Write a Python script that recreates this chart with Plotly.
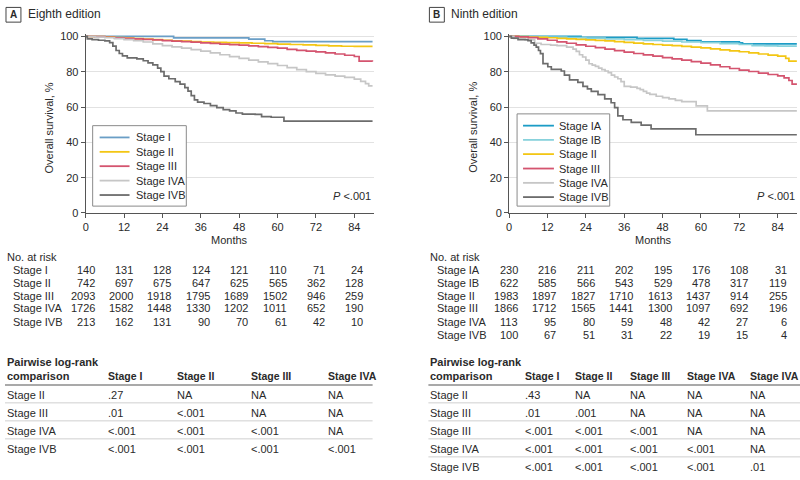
import plotly.graph_objects as go

# ---------------- DATA ----------------
months_ticks = [0, 12, 24, 36, 48, 60, 72, 84]

# Eighth edition (panel A)
e8_names = ["Stage I", "Stage II", "Stage III", "Stage IVA", "Stage IVB"]
e8_I_t = [0, 27.5, 51, 56, 58.5, 89.7]
e8_I_s = [100, 99.1, 98.4, 97.5, 97.0, 97.0]
e8_II_t = [0, 3, 6, 9, 12, 15, 18, 21, 24, 27, 30, 33, 36, 40, 44, 48, 52, 56, 60, 64, 68, 72, 76, 80, 84, 89.7]
e8_II_s = [100, 99.8, 99.6, 99.3, 99.0, 98.7, 98.4, 98.1, 97.8, 97.5, 97.3, 97.0, 96.8, 96.6, 96.5, 96.3, 96.1,
           95.9, 95.6, 95.4, 95.2, 94.9, 94.6, 94.4, 94.3, 94.3]
e8_III_t = [0, 3, 6, 9, 12, 15, 18, 21, 24, 27, 30, 33, 36, 39, 42, 45, 48, 51, 54, 57, 60, 63, 66, 69, 72, 75,
            78, 81, 84, 85.5, 89.7]
e8_III_s = [100, 99.8, 99.5, 99.2, 98.9, 98.6, 98.3, 98.0, 97.6, 97.3, 97.0, 96.7, 96.3, 96.0, 95.6, 95.3, 95.0,
            94.6, 94.2, 93.8, 93.3, 92.6, 92.1, 91.6, 91.2, 90.7, 90.0, 89.3, 88.6, 86.0, 85.8]
e8_IVA_t = [0, 3, 6, 9, 12, 15, 18, 21, 24, 27, 30, 33, 36, 39, 42, 45, 48, 51, 54, 57, 60, 63, 66, 69, 72, 75,
            78, 81, 84, 86, 87.5, 88.5, 89.7]
e8_IVA_s = [100, 99.6, 99.2, 98.7, 98.1, 97.5, 96.8, 95.8, 94.8, 94.0, 93.3, 92.5, 91.6, 90.6, 89.6, 88.5, 87.5,
            86.6, 85.6, 84.6, 83.5, 82.3, 81.2, 80.0, 79.0, 78.2, 77.5, 76.8, 75.8, 74.5, 73.2, 72.0, 72.0]
e8_IVB_t = [0, 0.5, 2, 4, 6, 7.5, 8.5, 9.5, 10.5, 11.5, 13, 16, 18, 19.5, 21, 22.5, 23.5, 24.5, 26, 28, 29.5,
            31, 32, 33, 34, 35, 37, 39, 41, 43, 45, 47, 49, 53, 55, 58, 62, 89.7]
e8_IVB_s = [100, 98.6, 98.2, 97.8, 97.4, 96.5, 94.5, 92.0, 90.3, 89.0, 87.8, 87.3, 86.2, 85.0, 83.8, 82.0, 80.0,
            77.5, 76.0, 74.4, 73.0, 71.0, 69.0, 66.5, 64.0, 62.8, 62.0, 60.8, 59.6, 58.5, 57.8, 56.6, 56.0, 55.8,
            54.6, 54.2, 52.0, 52.0]

# Ninth edition (panel B)
e9_names = ["Stage IA", "Stage IB", "Stage II", "Stage III", "Stage IVA", "Stage IVB"]
e9_IA_t = [0, 22.5, 40, 51.5, 55.6, 60, 72, 73, 90]
e9_IA_s = [100, 99.4, 98.9, 98.3, 97.6, 96.9, 96.3, 95.8, 95.8]
e9_IB_t = [0, 6, 12, 18, 24, 30, 36, 42, 48, 54, 60, 66, 72, 76, 80, 84, 90]
e9_IB_s = [100, 99.8, 99.6, 99.3, 99.0, 98.6, 98.1, 97.7, 97.3, 96.8, 96.4, 95.9, 95.4, 94.8, 94.6, 94.5, 94.5]
e9_II_t = [0, 3, 6, 9, 12, 15, 18, 21, 24, 27, 30, 33, 36, 39, 42, 45, 48, 51, 54, 57, 60, 63, 66, 69, 72, 75,
           78, 81, 84, 86.5, 87.5, 90]
e9_II_s = [100, 99.8, 99.6, 99.4, 99.2, 98.9, 98.6, 98.3, 98.0, 97.7, 97.4, 97.0, 96.6, 96.2, 95.8, 95.4, 95.0,
           94.7, 94.3, 93.9, 93.5, 92.9, 92.3, 91.8, 91.3, 90.7, 90.0, 89.4, 88.8, 87.5, 86.0, 86.0]
e9_III_t = [0, 3, 6, 9, 12, 15, 18, 21, 24, 27, 30, 33, 36, 39, 42, 45, 48, 51, 54, 57, 60, 63, 66, 69, 72, 75,
            78, 81, 84, 86, 87.5, 88.5, 90]
e9_III_s = [100, 99.7, 99.3, 98.6, 97.8, 96.9, 96.1, 95.2, 94.4, 93.6, 92.8, 91.9, 91.1, 90.3, 89.5, 88.8, 88.0,
            87.2, 86.5, 85.7, 84.8, 83.8, 82.8, 81.8, 80.9, 80.1, 79.2, 78.4, 77.6, 76.5, 75.0, 73.0, 72.5]
e9_IVA_t = [0, 1.5, 3, 5, 8, 10, 13, 15, 18, 20, 21, 22, 23, 24, 25, 26, 27, 28, 29, 30, 31, 32, 33, 34, 35, 36,
            38, 40, 41, 42, 43, 44, 46, 48, 50, 52, 54, 58.5, 62, 90]
e9_IVA_s = [100, 98.9, 98.4, 98.0, 96.1, 95.4, 95.0, 94.8, 93.9, 92.8, 91.5, 89.6, 88.3, 86.5, 84.5, 83.7, 83.0,
            82.0, 81.2, 80.4, 79.5, 78.0, 77.0, 76.0, 74.4, 71.7, 71.3, 70.6, 69.8, 68.8, 67.9, 67.2, 66.1, 65.3,
            64.6, 63.8, 63.1, 60.6, 57.8, 57.8]
e9_IVB_t = [0, 0.7, 2.8, 5.9, 6.9, 7.8, 8.5, 9.2, 9.8, 10.6, 12.1, 13.2, 16.3, 17.3, 18.9, 21.5, 23.1, 24.5, 25.7,
            27.8, 29.9, 31.9, 33, 34, 35.6, 38.2, 41.3, 44.4, 58.4, 90]
e9_IVB_s = [100, 99, 98.2, 97.6, 96.3, 95, 93.9, 92, 90.2, 84.6, 82.8, 81.3, 80.4, 78.1, 75.4, 73.9, 71.7, 70.3,
            68.9, 67, 64.6, 62.4, 59.6, 55, 52.8, 51.3, 49.8, 47.6, 44.3, 44.3]

# Numbers at risk
e8_risk = {
    "Stage I": [140, 131, 128, 124, 121, 110, 71, 24],
    "Stage II": [742, 697, 675, 647, 625, 565, 362, 128],
    "Stage III": [2093, 2000, 1918, 1795, 1689, 1502, 946, 259],
    "Stage IVA": [1726, 1582, 1448, 1330, 1202, 1011, 652, 190],
    "Stage IVB": [213, 162, 131, 90, 70, 61, 42, 10],
}
e9_risk = {
    "Stage IA": [230, 216, 211, 202, 195, 176, 108, 31],
    "Stage IB": [622, 585, 566, 543, 529, 478, 317, 119],
    "Stage II": [1983, 1897, 1827, 1710, 1613, 1437, 914, 255],
    "Stage III": [1866, 1712, 1565, 1441, 1300, 1097, 692, 196],
    "Stage IVA": [113, 95, 80, 59, 48, 42, 27, 6],
    "Stage IVB": [100, 67, 51, 31, 22, 19, 15, 4],
}

# Pairwise log-rank tables
e8_cols = ["Stage I", "Stage II", "Stage III", "Stage IVA"]
e8_rows = ["Stage II", "Stage III", "Stage IVA", "Stage IVB"]
e8_p = [[".27", "NA", "NA", "NA"],
        [".01", "<.001", "NA", "NA"],
        ["<.001", "<.001", "<.001", "NA"],
        ["<.001", "<.001", "<.001", "<.001"]]
e9_cols = ["Stage I", "Stage II", "Stage III", "Stage IVA", "Stage IVA"]
e9_rows = ["Stage II", "Stage III", "Stage III", "Stage IVA", "Stage IVB"]
e9_p = [[".43", "NA", "NA", "NA", "NA"],
        [".01", ".001", "NA", "NA", "NA"],
        ["<.001", "<.001", "<.001", "NA", "NA"],
        ["<.001", "<.001", "<.001", "<.001", "NA"],
        ["<.001", "<.001", "<.001", "<.001", ".01"]]

# ---------------- STYLE ----------------
FONT = "Liberation Sans Narrow, Arial Narrow, Liberation Sans, Arial, sans-serif"
TXT = "#2a2a2a"
e8_colors = ["#6a9ec6", "#f3c614", "#d4546f", "#c6c6c6", "#6c6c6c"]
e9_colors = ["#1c9cc6", "#88d2dc", "#f3c614", "#d4546f", "#c6c6c6", "#6c6c6c"]

W, H = 800, 480
def px(x):
    return x / W
def py(y):
    return 1 - y / H

fig = go.Figure()

e8_series = [(e8_I_t, e8_I_s), (e8_II_t, e8_II_s), (e8_III_t, e8_III_s), (e8_IVA_t, e8_IVA_s), (e8_IVB_t, e8_IVB_s)]
e9_series = [(e9_IA_t, e9_IA_s), (e9_IB_t, e9_IB_s), (e9_II_t, e9_II_s), (e9_III_t, e9_III_s),
             (e9_IVA_t, e9_IVA_s), (e9_IVB_t, e9_IVB_s)]

for name, (t, s), c in zip(e8_names, e8_series, e8_colors):
    fig.add_trace(go.Scatter(x=t, y=s, mode="lines", line=dict(color=c, width=1.7, shape="hv"),
                             name=name, showlegend=False, xaxis="x", yaxis="y", hoverinfo="skip"))
for name, (t, s), c in zip(e9_names, e9_series, e9_colors):
    fig.add_trace(go.Scatter(x=t, y=s, mode="lines", line=dict(color=c, width=1.7, shape="hv"),
                             name=name, showlegend=False, xaxis="x2", yaxis="y2", hoverinfo="skip"))

y_dom = [py(214), py(214 - 101.5 * 1.8)]
axis_common = dict(showline=True, linecolor="#555", linewidth=1, ticks="outside", ticklen=4, tickcolor="#555",
                   tickfont=dict(family=FONT, size=11, color=TXT), zeroline=False, fixedrange=True)
xa = dict(axis_common, range=[0, 90], tickvals=months_ticks, showgrid=False)
ya = dict(axis_common, range=[0, 101.5], tickvals=[0, 20, 40, 60, 80, 100], showgrid=True,
          gridcolor="#e2e2e2", gridwidth=1)

fig.update_layout(
    width=W, height=H, margin=dict(l=0, r=0, t=0, b=0),
    paper_bgcolor="white", plot_bgcolor="white",
    xaxis=dict(xa, domain=[px(83), px(83 + 90 * 3.21)], anchor="y"),
    yaxis=dict(ya, domain=y_dom, anchor="x"),
    xaxis2=dict(xa, domain=[px(508), px(508 + 90 * 3.21)], anchor="y2"),
    yaxis2=dict(ya, domain=y_dom, anchor="x2"),
    showlegend=False,
)

annotations = []
shapes = []

def ann(text, x, y, xanchor="left", size=11, bold=False, xref="paper", xshift=0, color=TXT, textangle=0):
    if bold:
        text = "<b>" + text + "</b>"
    annotations.append(dict(text=text, x=x if xref != "paper" else px(x), y=py(y), xref=xref, yref="paper",
                            xanchor=xanchor, yanchor="middle", showarrow=False, xshift=xshift,
                            textangle=textangle, font=dict(family=FONT, size=size, color=color)))

def esc(s):
    return s.replace("<", "&lt;")

# Panel titles
for (bx, label, title) in [(3, "A", "Eighth edition"), (428, "B", "Ninth edition")]:
    shapes.append(dict(type="rect", xref="paper", yref="paper", x0=px(bx), x1=px(bx + 15), y0=py(19.5),
                       y1=py(4.5), line=dict(color="#444", width=1), fillcolor="white"))
    ann(label, bx + 7.5, 12, xanchor="center", size=10, bold=True)
    ann(title, bx + 20, 11.5, size=12)

# Axis titles
for x0 in (83, 508):
    ann("Overall survival, %", x0 - 37, 127, xanchor="center", size=11, textangle=-90)
    ann("Months", x0 + 144.5, 242, xanchor="center", size=11)

# P values
ann("<i>P</i> " + esc("<.001"), 371, 197, xanchor="right", size=11)
ann("<i>P</i> " + esc("<.001"), 797, 197, xanchor="right", size=11)

# Legends (manual, to match compact spacing)
def legend(box, line_x, text_x, ys, names, colors):
    x0, y0, x1, y1 = box
    shapes.append(dict(type="rect", xref="paper", yref="paper", x0=px(x0), x1=px(x1), y0=py(y1), y1=py(y0),
                       line=dict(color="#8a8a8a", width=1), fillcolor="white", layer="above"))
    for yy, nm, c in zip(ys, names, colors):
        shapes.append(dict(type="line", xref="paper", yref="paper", x0=px(line_x[0]), x1=px(line_x[1]),
                           y0=py(yy), y1=py(yy), line=dict(color=c, width=1.8), layer="above"))
        ann(nm, text_x, yy, size=11)

legend((90, 125, 184, 207), (97, 127), 131, [137, 151.7, 166.3, 181, 195.7], e8_names, e8_colors)
legend((516, 113, 609, 207), (522, 553), 556, [125, 139.5, 154, 168.7, 183.3, 197.8], e9_names, e9_colors)

# No. at risk tables
def risk_table(x_label, x_head, xref, ys, risk):
    ann("No. at risk", x_head, 259, size=11)
    for yy, (nm, vals) in zip(ys, risk.items()):
        ann(nm, x_label, yy, size=11)
        for m, v in zip(months_ticks, vals):
            ann(str(v), m, yy, xanchor="right", size=11, xref=xref, xshift=11)

risk_table(8, 2, "x", [272.3, 285.3, 298.3, 311.3, 324.7], e8_risk)
risk_table(434, 427, "x2", [272.3, 285.3, 298.3, 311.3, 324.7, 338.3], e9_risk)

# Pairwise log-rank tables
def pw_table(x0, x1, col_x, cols, rows, vals):
    ann("Pairwise log-rank", x0, 366, size=11, bold=True)
    ann("comparison", x0, 380.5, size=11, bold=True)
    for cx, c in zip(col_x, cols):
        ann(c, cx, 380.5, size=10.5, bold=True)
    shapes.append(dict(type="line", xref="paper", yref="paper", x0=px(x0), x1=px(x1), y0=py(389.3),
                       y1=py(389.3), line=dict(color="#555", width=1.2)))
    row_y = [399.3 + 18.35 * i for i in range(len(rows))]
    for i, (yy, r) in enumerate(zip(row_y, rows)):
        ann(r, x0, yy, size=11)
        for cx, v in zip(col_x, vals[i]):
            ann(esc(v), cx, yy, size=11)
        if i < len(rows) - 1:
            ly = yy + 8.2
            shapes.append(dict(type="line", xref="paper", yref="paper", x0=px(x0), x1=px(x1), y0=py(ly),
                               y1=py(ly), line=dict(color="#cfcfcf", width=1)))

pw_table(2, 371, [103, 173, 247, 324], e8_cols, e8_rows, e8_p)
pw_table(427, 800, [522, 572, 627, 685, 748], e9_cols, e9_rows, e9_p)

fig.update_layout(annotations=annotations, shapes=shapes)
fig.write_html("out.html", config={"displayModeBar": False},
               post_script="document.body.style.margin='0';document.body.style.overflow='hidden';")
